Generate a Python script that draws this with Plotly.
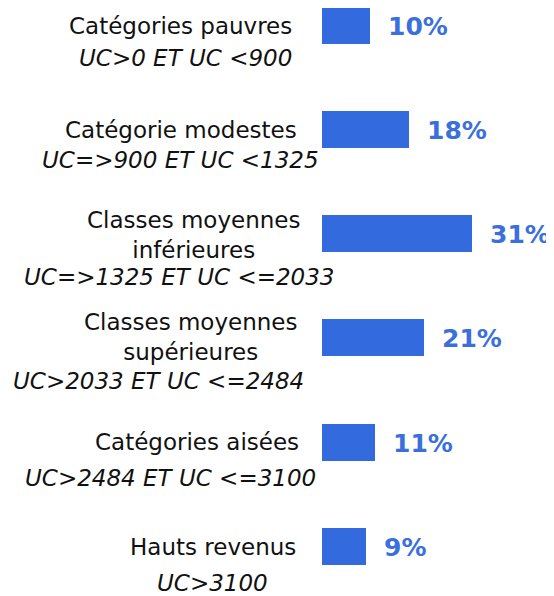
import plotly.graph_objects as go

# data
titles = [
    ["Catégories pauvres"],
    ["Catégorie modestes"],
    ["Classes moyennes", "inférieures"],
    ["Classes moyennes", "supérieures"],
    ["Catégories aisées"],
    ["Hauts revenus"],
]
bounds = [
    "UC>0 ET UC <900",
    "UC=>900 ET UC <1325",
    "UC=>1325 ET UC <=2033",
    "UC>2033 ET UC <=2484",
    "UC>2484 ET UC <=3100",
    "UC>3100",
]
shares = [10, 18, 31, 21, 11, 9]

categories = [" ".join(t) for t in titles]

# label layout: pixel offset of title block / bound line from bar centre, text centre x in px
title_dy = [1, 1, 1, -1, 0, 1]
title_cx = [180, 181, 193, 190, 197, 213]
bound_dy = [33, 31, 43, 43, 36, 37]
bound_cx = [185, 180, 179, 158, 170, 212]

BAR = "#336ADE"
TXT = "#3B6FDD"
PAGE = 8          # browser body margin
LEFT = 322 - PAGE


def esc(s):
    return s.replace("<", "&lt;").replace(">", "&gt;")


fig = go.Figure(go.Bar(
    x=shares, y=categories, orientation="h",
    marker=dict(color=BAR, line=dict(width=0)),
    width=0.355,
))

label_font = dict(family="DejaVu Sans", size=23, color="#111111")
annotations = []
for i, cat in enumerate(categories):
    annotations.append(dict(
        x=0, xref="paper", y=cat, yref="y",
        text="<br>".join(esc(t) for t in titles[i]), align="center",
        showarrow=False, xanchor="center", yanchor="middle",
        xshift=title_cx[i] - PAGE - LEFT, yshift=-title_dy[i],
        font=label_font,
    ))
    annotations.append(dict(
        x=0, xref="paper", y=cat, yref="y",
        text=f"<i>{esc(bounds[i])}</i>",
        showarrow=False, xanchor="center", yanchor="middle",
        xshift=bound_cx[i] - PAGE - LEFT, yshift=-bound_dy[i],
        font=label_font,
    ))
    annotations.append(dict(
        x=shares[i], xref="x", y=cat, yref="y",
        text=f"<b>{shares[i]}%</b>", showarrow=False,
        xanchor="left", yanchor="middle", xshift=16, yshift=-1,
        font=dict(family="DejaVu Sans", size=25, color=TXT),
    ))

fig.update_layout(
    width=554 - PAGE, height=596 - PAGE,
    margin=dict(l=LEFT, r=0, t=0, b=0),
    paper_bgcolor="white", plot_bgcolor="white",
    showlegend=False,
    bargap=0,
    annotations=annotations,
    xaxis=dict(range=[0, 47.94], visible=False, fixedrange=True),
    yaxis=dict(type="category", categoryorder="array", categoryarray=categories,
               range=[5.475, -0.163], visible=False, fixedrange=True),
)

fig.write_html("out.html")
